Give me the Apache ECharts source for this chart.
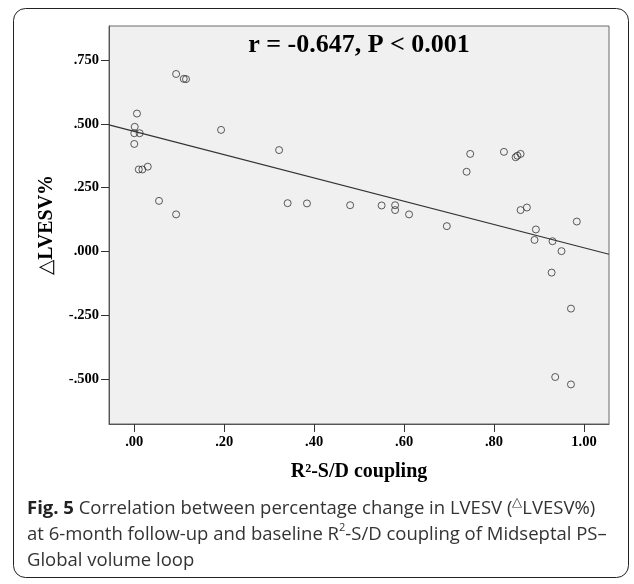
<!DOCTYPE html>
<html>
<head>
<meta charset="utf-8">
<script src="https://cdn.jsdelivr.net/npm/echarts@6/dist/echarts.min.js"></script>
<style>
  html, body { margin: 0; padding: 0; background: #fff; }
  #chart { width: 634px; height: 584px; }
</style>
</head>
<body>
<div id="chart"></div>
<script>
// R2-S/D coupling (x) vs percentage change in LVESV (y)
var couplingX = [0.006, 0.001, 0.000, 0.012, 0.000, 0.010, 0.018, 0.030, 0.055, 0.093,
                 0.093, 0.110, 0.115, 0.193, 0.322, 0.341, 0.384, 0.480, 0.550, 0.580,
                 0.580, 0.611, 0.695, 0.739, 0.747, 0.822, 0.848, 0.852, 0.859, 0.859,
                 0.873, 0.984, 0.893, 0.890, 0.930, 0.950, 0.928, 0.971, 0.936, 0.971];
var lvesvChange = [0.540, 0.488, 0.463, 0.463, 0.421, 0.321, 0.321, 0.332, 0.198, 0.145,
                   0.695, 0.676, 0.675, 0.476, 0.397, 0.189, 0.188, 0.181, 0.180, 0.181,
                   0.162, 0.145, 0.099, 0.312, 0.382, 0.390, 0.369, 0.375, 0.382, 0.162,
                   0.172, 0.117, 0.086, 0.045, 0.040, 0.001, -0.083, -0.224, -0.492, -0.521];
// fit line end points, read at the plot edges
var fitX = [-0.0562, 1.0556];
var fitY = [0.496, -0.011];
var xTicks = [0, 0.2, 0.4, 0.6, 0.8, 1.0];
var yTicks = [-0.5, -0.25, 0, 0.25, 0.5, 0.75];

var serif = '"Liberation Serif", "DejaVu Serif", serif';
var sans = '"Open Sans", "Noto Sans", sans-serif';

function dropZero(v, d) {
    return v.toFixed(d).replace(/^(-?)0\./, '$1.');
}

var myChart = echarts.init(document.getElementById('chart'));

var option = {
    backgroundColor: '#ffffff',
    animation: false,
    grid: {
        left: 109,
        right: 25,
        top: 26,
        bottom: 160,
        show: true,
        backgroundColor: '#f0f0f0',
        borderColor: '#6a6a6a',
        borderWidth: 1
    },
    xAxis: {
        type: 'value',
        min: -0.0562,
        max: 1.0556,
        name: 'R²-S/D coupling',
        nameLocation: 'middle',
        nameGap: 38,
        nameTextStyle: { fontFamily: serif, fontWeight: 'bold', fontSize: 20, color: '#000' },
        splitLine: { show: false },
        axisLine: { show: true, onZero: false, lineStyle: { color: '#555', width: 1 } },
        axisTick: { show: true, length: 8, customValues: xTicks, lineStyle: { color: '#333' } },
        axisLabel: {
            customValues: xTicks,
            margin: 11,
            fontFamily: serif, fontWeight: 'bold', fontSize: 14.5, color: '#000',
            formatter: function (v) { return dropZero(v, 2); }
        }
    },
    yAxis: {
        type: 'value',
        min: -0.676,
        max: 0.883,
        name: '△LVESV%',
        nameLocation: 'middle',
        nameRotate: 90,
        nameGap: 52,
        nameTextStyle: { fontFamily: serif, fontWeight: 'bold', fontSize: 20, color: '#000' },
        splitLine: { show: false },
        axisLine: { show: true, onZero: false, lineStyle: { color: '#555', width: 1 } },
        axisTick: { show: true, length: 8, customValues: yTicks, lineStyle: { color: '#333' } },
        axisLabel: {
            customValues: yTicks,
            margin: 10,
            fontFamily: serif, fontWeight: 'bold', fontSize: 14.5, color: '#000',
            formatter: function (v) { return dropZero(v, 3); }
        }
    },
    series: [{
        type: 'scatter',
        symbol: 'circle',
        symbolSize: 7,
        itemStyle: { color: 'rgba(0,0,0,0)', borderColor: '#333', borderWidth: 1 },
        data: couplingX.map(function (x, i) { return [x, lvesvChange[i]]; }),
        z: 3
    }, {
        type: 'line',
        showSymbol: false,
        symbol: 'none',
        lineStyle: { color: '#333', width: 1.2 },
        data: fitX.map(function (x, i) { return [x, fitY[i]]; }),
        z: 2
    }],
    graphic: [{
        type: 'rect',
        shape: { x: 13.5, y: 8.5, width: 615, height: 569, r: 12 },
        style: { fill: 'none', stroke: '#222', lineWidth: 1 },
        z: -10
    }, {
        type: 'text',
        x: 359,
        y: 45,
        style: {
            text: 'r = -0.647, P < 0.001',
            font: 'bold 26px ' + serif,
            fill: '#000',
            textAlign: 'center',
            textVerticalAlign: 'middle'
        }
    }, {
        type: 'text',
        x: 27,
        y: 496,
        style: {
            text: '{b|Fig. 5} {n|Correlation between percentage change in LVESV (}{s|△}{n|LVESV%)}\n' +
                  '{n|at 6-month follow-up and baseline R}{sup|2}{n|-S/D coupling of Midseptal PS–}\n' +
                  '{n|Global volume loop}',
            fill: '#333',
            font: '18.5px ' + sans,
            lineHeight: 26,
            rich: {
                b: { fontFamily: sans, fontWeight: 'bold', fontSize: 18.5, lineHeight: 26, fill: '#222' },
                n: { fontFamily: sans, fontSize: 18.5, lineHeight: 26, fill: '#333' },
                s: { fontFamily: sans, fontSize: 13, lineHeight: 26, fill: '#333', verticalAlign: 'top', padding: [0, 0, 3, 0] },
                sup: { fontFamily: sans, fontSize: 11, lineHeight: 26, fill: '#333', verticalAlign: 'top', padding: [0, 0, 8, 0] }
            }
        }
    }]
};

myChart.setOption(option);
</script>
</body>
</html>
